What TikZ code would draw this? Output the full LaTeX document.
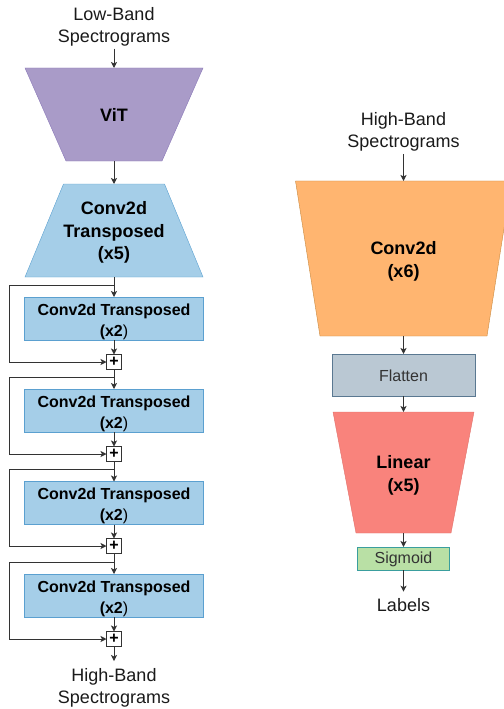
\documentclass[tikz,border=0pt]{standalone}
\usepackage{fontspec}
\setmainfont{Liberation Sans}
\usetikzlibrary{arrows.meta,backgrounds}

\definecolor{ink}{HTML}{333333}
\definecolor{txt}{HTML}{1A1A1A}
\definecolor{vitfill}{HTML}{A99BC8}
\definecolor{vitline}{HTML}{8A78B8}
\definecolor{blufill}{HTML}{A5CEE8}
\definecolor{bluline}{HTML}{5BA0D0}
\definecolor{orgfill}{HTML}{FFB570}
\definecolor{orgline}{HTML}{C8893F}
\definecolor{flatfill}{HTML}{BAC8D3}
\definecolor{flatline}{HTML}{5A7891}
\definecolor{linfill}{HTML}{F9837C}
\definecolor{linline}{HTML}{E0706A}
\definecolor{sigfill}{HTML}{B9E0A5}
\definecolor{sigline}{HTML}{3A9E9E}

% font size / baseline skip in bp
\newcommand\fsz[2]{\fontsize{#1bp}{#2bp}\selectfont}
% invisible strut that sets the height of a first text line
\newcommand\lift[1]{\rule{0pt}{#1bp}}
% trapezoid drawn inside a frame node: #1 style, #2 node, #3 top inset, #4 bottom inset
\newcommand\trapz[4]{\path[#1] ([xshift=#3]#2.north west) -- ([xshift=-#3]#2.north east)
  -- ([xshift=-#4]#2.south east) -- ([xshift=#4]#2.south west) -- cycle;}

\begin{document}
\begin{tikzpicture}[x=1bp,y=-1bp,
  ln/.style={draw=ink, line width=1bp},
  arr/.style={ln, -{Stealth[length=6bp,width=6bp,inset=1.5bp]}},
  intext/.style={align=center, text=txt, font=\fsz{18}{22}, inner xsep=0bp, inner ysep=2.5bp},
  outtext/.style={intext, inner ysep=7bp},
  trapframe/.style={inner sep=0bp, outer sep=0bp, align=center, text=black, font=\fsz{18}{22.5}\bfseries},
  blk/.style={draw=bluline, fill=blufill, line width=1bp, minimum width=178bp, minimum height=43bp,
    inner sep=0bp, outer sep=0bp, align=center, text=black, font=\fsz{16}{21}\bfseries},
  plusbox/.style={draw=ink, fill=white, line width=1bp, minimum size=15bp, inner sep=0bp,
    outer sep=0bp, font=\fsz{16}{16}\bfseries},
  smallbox/.style={line width=1bp, inner sep=0bp, outer sep=0bp, text=ink, font=\fsz{16}{16}},
]
\useasboundingbox (0,0) rectangle (504,709);

% ---- upsampling branch ----
\node[intext] (lowin) at (114,26.6) {Low-Band\\Spectrograms};
\node[trapframe, minimum width=178bp, minimum height=93bp] (vit) at (114,114.5) {\lift{14}ViT};
\node[trapframe, minimum width=178bp, minimum height=93bp] (up5) at (114,230.5) {\lift{17.4}Conv2d\\Transposed\\(x5)};

\node[blk] (u1) at (114,318.5) {\lift{17.4}Conv2d Transposed\\(x2{\mdseries)}};
\node[blk] (u2) at (114,410.5) {\lift{17.4}Conv2d Transposed\\(x2{\mdseries)}};
\node[blk] (u3) at (114,503)   {\lift{17.4}Conv2d Transposed\\(x2{\mdseries)}};
\node[blk] (u4) at (114,595.5) {\lift{17.4}Conv2d Transposed\\(x2{\mdseries)}};

\node[plusbox] (p1) at (114,362) {+};
\node[plusbox] (p2) at (114,454) {+};
\node[plusbox] (p3) at (114,546) {+};
\node[plusbox] (p4) at (114,639) {+};

\node[outtext] (highout) at (114,687.6) {High-Band\\Spectrograms};

% skip connection corners
\coordinate (s1) at (114,285); \coordinate (t1) at (9,285);
\coordinate (s2) at (114,377); \coordinate (t2) at (9,377);
\coordinate (s3) at (114,469); \coordinate (t3) at (9,469);
\coordinate (s4) at (114,562); \coordinate (t4) at (9,562);

% ---- classifier branch ----
\node[intext] (highin) at (403.5,131.7) {High-Band\\Spectrograms};
\node[trapframe, font=\fsz{18}{23}\bfseries, minimum width=216bp, minimum height=155bp] (c6) at (403.5,258.5) {\lift{19.4}Conv2d\\(x6)};
\node[smallbox, draw=flatline, fill=flatfill, minimum width=143bp, minimum height=42bp] (flat) at (403.5,375) {\lift{12.5}Flatten};
\node[trapframe, font=\fsz{18}{23}\bfseries, minimum width=141bp, minimum height=121bp] (lin) at (403.5,472.5) {\lift{19.3}Linear\\(x5)};
\node[smallbox, draw=sigline, fill=sigfill, minimum width=92bp, minimum height=23bp] (sig) at (403.5,558.5) {\lift{14}Sigmoid};
\node[outtext] (lab) at (403.5,605.5) {Labels};

% trapezoid bodies behind their labels
\begin{scope}[on background layer, line width=1bp]
  \trapz{draw=vitline,fill=vitfill}{vit}{0bp}{41bp}
  \trapz{draw=bluline,fill=blufill}{up5}{38.5bp}{0bp}
  \trapz{draw=orgline,fill=orgfill}{c6}{0bp}{24.5bp}
  \trapz{draw=linline,fill=linfill}{lin}{0bp}{23bp}
\end{scope}

% ---- connectors ----
\draw[arr] (lowin.south) -- (vit.north);
\draw[arr] (vit.south) -- (up5.north);
\draw[arr] (up5.south) -- (u1.north);
\draw[arr] (s1) -- (t1) |- (p1.west);
\draw[arr] (u1.south) -- (p1.north);
\draw[arr] (p1.south) -- (u2.north);
\draw[arr] (s2) -- (t2) |- (p2.west);
\draw[arr] (u2.south) -- (p2.north);
\draw[arr] (p2.south) -- (u3.north);
\draw[arr] (s3) -- (t3) |- (p3.west);
\draw[arr] (u3.south) -- (p3.north);
\draw[arr] (p3.south) -- (u4.north);
\draw[arr] (s4) -- (t4) |- (p4.west);
\draw[arr] (u4.south) -- (p4.north);
\draw[arr] (p4.south) -- (highout.north);

\draw[arr] (highin.south) -- (c6.north);
\draw[arr] (c6.south) -- (flat.north);
\draw[arr] (flat.south) -- (lin.north);
\draw[arr] (lin.south) -- (sig.north);
\draw[arr] (sig.south) -- (lab.north);
\end{tikzpicture}
\end{document}
